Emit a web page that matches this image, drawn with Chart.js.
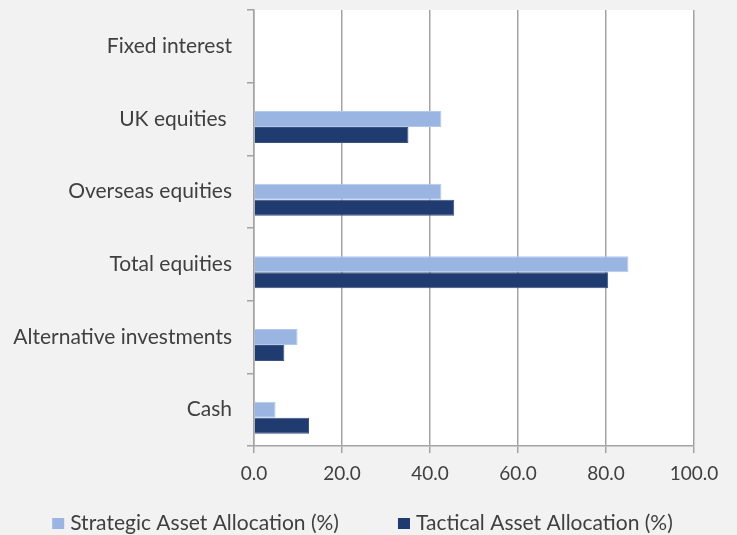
<!DOCTYPE html>
<html><head><meta charset="utf-8">
<script src="https://cdn.jsdelivr.net/npm/chart.js@4.4.0/dist/chart.umd.min.js"></script>
<style>html,body{margin:0;padding:0;background:#f2f2f2}#wrap{width:737px;height:535px}</style>
</head><body><div id="wrap"><canvas id="c" width="737" height="535"></canvas></div>
<script>
const categories = ['Fixed interest', 'UK equities ', 'Overseas equities', 'Total equities', 'Alternative investments', 'Cash'];
const placeholder = [null, null, null, null, null, null];
const strategic = [null, 42.6, 42.6, 85.1, 9.9, 4.9];
const tactical = [null, 35.1, 45.5, 80.5, 6.9, 12.5];
const seriesNames = ['Strategic Asset Allocation (%)', 'Tactical Asset Allocation (%)'];
const xTickValues = [0, 20, 40, 60, 80, 100];

const LIGHT = '#9bb5e3', DARK = '#1f3b70', GRID = '#a3a3a3', TXT = '#404040';
const FONT = 'Lato, "Open Sans", sans-serif';

const bgPlugin = {
  id: 'bg',
  beforeDraw(chart) {
    const {ctx, chartArea: a} = chart;
    ctx.save();
    ctx.fillStyle = '#f2f2f2';
    ctx.fillRect(0, 0, chart.width, chart.height);
    ctx.fillStyle = '#ffffff';
    ctx.fillRect(a.left, a.top, a.right - a.left, a.bottom - a.top);
    ctx.restore();
  }
};

const legendPlugin = {
  id: 'customLegend',
  afterDraw(chart) {
    const ctx = chart.ctx;
    ctx.save();
    ctx.font = '21px ' + FONT;
    ctx.textBaseline = 'middle';
    const boxW = 12, boxH = 11, gap = 6, itemGap = 59;
    const widths = seriesNames.map(t => ctx.measureText(t).width);
    const total = widths.reduce((s, w) => s + boxW + gap + w, 0) + itemGap * (seriesNames.length - 1);
    let x = 362.5 - total / 2;
    const yc = 523;
    const colors = [LIGHT, DARK];
    seriesNames.forEach((t, i) => {
      ctx.fillStyle = colors[i];
      ctx.fillRect(x, 518, boxW, boxH);
      ctx.fillStyle = TXT;
      ctx.fillText(t, x + boxW + gap, yc);
      x += boxW + gap + widths[i] + itemGap;
    });
    ctx.restore();
  }
};

new Chart(document.getElementById('c'), {
  type: 'bar',
  data: {
    labels: categories,
    datasets: [
      {label: '', data: placeholder, backgroundColor: 'rgba(0,0,0,0)'},
      {label: seriesNames[0], data: strategic, backgroundColor: LIGHT, borderColor: '#b4c8ec', borderWidth: 1},
      {label: seriesNames[1], data: tactical, backgroundColor: DARK, borderColor: '#3a5383', borderWidth: 1}
    ]
  },
  options: {
    indexAxis: 'y',
    responsive: false,
    animation: false,
    devicePixelRatio: 1,
    layout: {padding: {top: 10, right: 43, left: 0, bottom: 0}},
    datasets: {bar: {categoryPercentage: 0.66, barPercentage: 1}},
    plugins: {legend: {display: false}, tooltip: {enabled: false}},
    scales: {
      x: {
        min: 0, max: 100,
        afterBuildTicks(scale) { scale.ticks = xTickValues.map(v => ({value: v})); },
        afterFit(scale) { scale.height = 89; scale.paddingLeft = 0; scale.paddingRight = 0; },
        ticks: {callback: v => Number(v).toFixed(1), color: TXT, font: {family: FONT, size: 19}, padding: 9, maxRotation: 0},
        grid: {color: GRID, lineWidth: 1.5, tickLength: 7},
        border: {color: GRID, width: 1.5}
      },
      y: {
        afterFit(scale) { scale.width = 254; scale.paddingTop = 0; scale.paddingBottom = 0; },
        ticks: {color: TXT, font: {family: FONT, size: 21}, padding: 15},
        grid: {display: true, drawOnChartArea: false, drawTicks: true, tickLength: 7, color: GRID, lineWidth: 1.5, offset: true},
        border: {color: GRID, width: 1.5}
      }
    }
  },
  plugins: [bgPlugin, legendPlugin]
});
</script></body></html>
